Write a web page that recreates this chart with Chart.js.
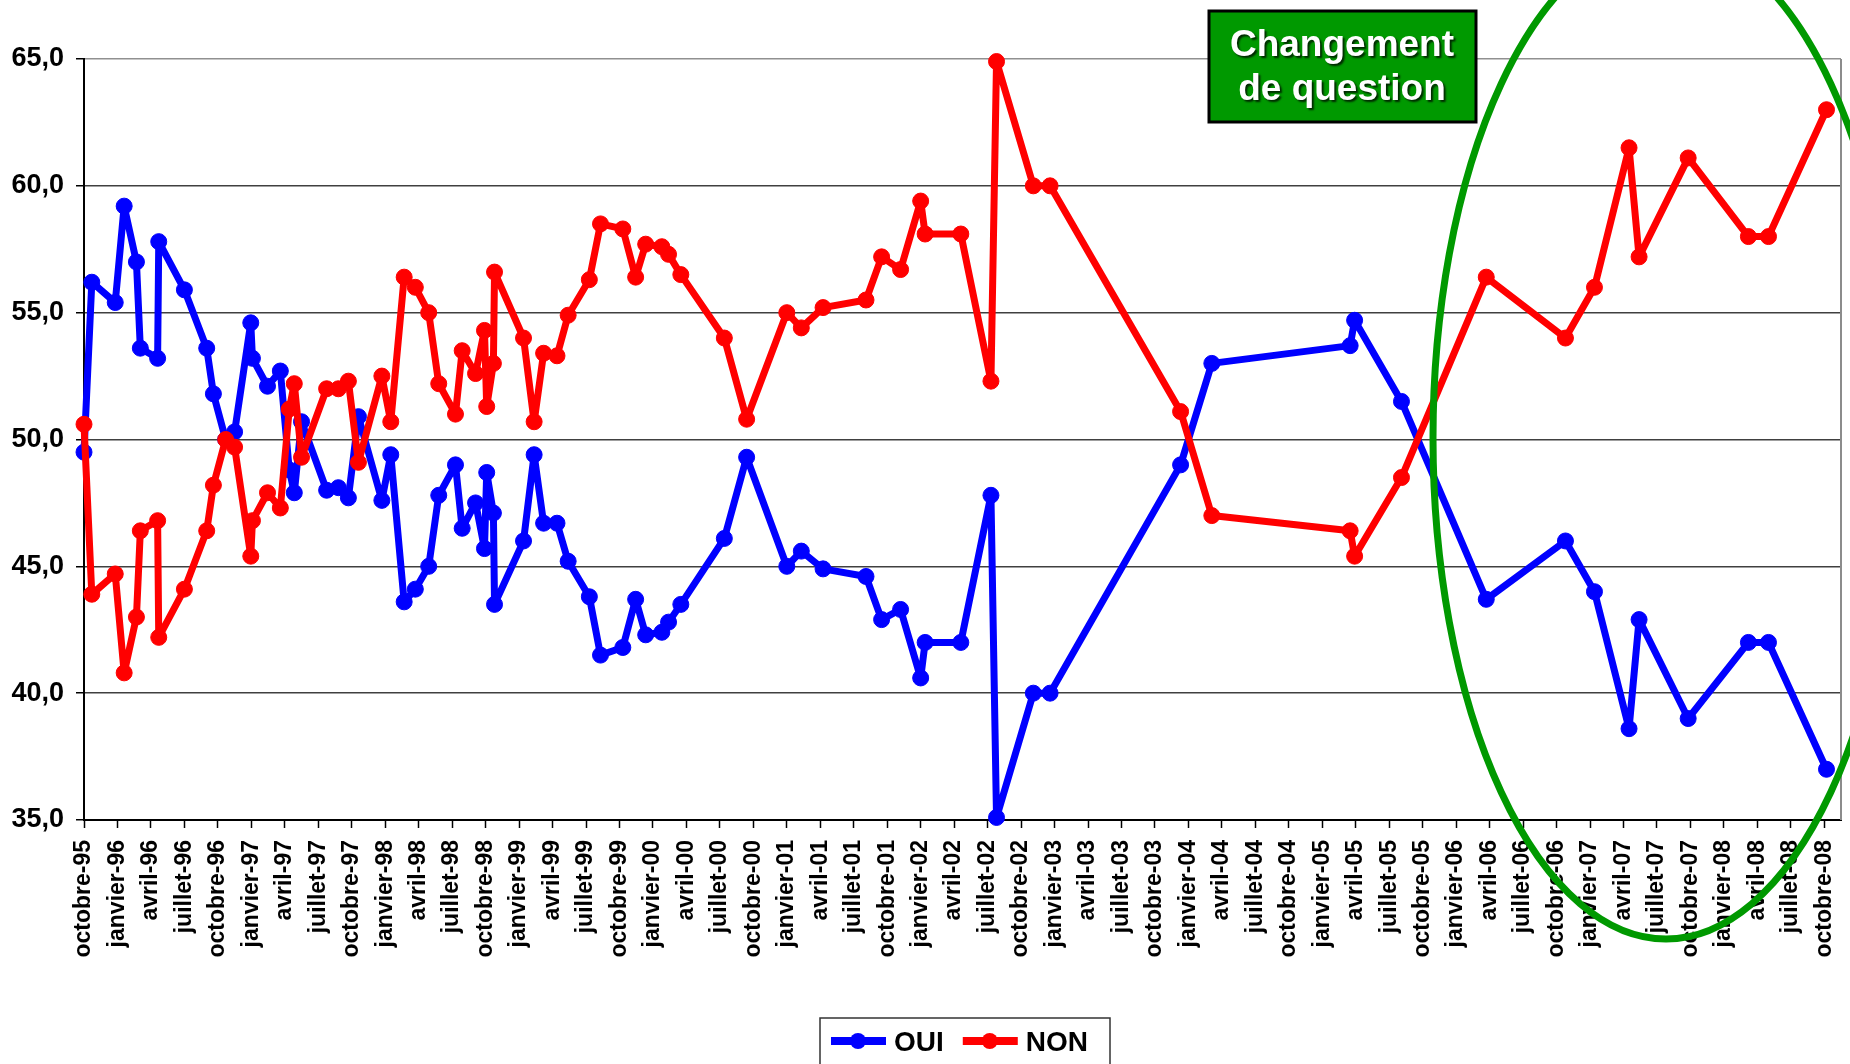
<!DOCTYPE html>
<html>
<head>
<meta charset="utf-8">
<script src="https://cdn.jsdelivr.net/npm/chart.js@4"></script>
<style>
  html, body { margin: 0; padding: 0; background: #fff; }
  #wrap { width: 1850px; height: 1064px; }
</style>
</head>
<body>
<div id="wrap"><canvas id="sondage" width="1850" height="1064"></canvas></div>
<script>
// position of each poll, in months counted from octobre-95
const moisSondage = [
    0.0, 0.7, 2.8, 3.6, 4.7, 5.05, 6.6, 6.7, 9.0, 11.0,
    11.6, 12.7, 13.5, 14.95, 15.1, 16.45, 17.6, 18.4, 18.85, 19.5,
    21.75, 22.8, 23.7, 24.6, 26.7, 27.5, 28.7, 29.7, 30.9, 31.8,
    33.3, 33.9, 35.1, 35.9, 36.1, 36.7, 36.8, 39.4, 40.35, 41.2,
    42.4, 43.4, 45.3, 46.3, 48.3, 49.45, 50.35, 51.8, 52.4, 53.5,
    57.4, 59.4, 63.0, 64.3, 66.25, 70.1, 71.5, 73.2, 75.0, 75.4,
    78.6, 81.3, 81.8, 85.1, 86.6, 98.3, 101.1, 113.5, 113.9, 118.1,
    125.7, 132.8, 135.4, 138.5, 139.4, 143.8, 149.2, 151.0, 156.2
];

const oui = [
    49.5, 56.2, 55.4, 59.2, 57.0, 53.6, 53.2, 57.8, 55.9, 53.6,
    51.8, 50.0, 50.3, 54.6, 53.2, 52.1, 52.7, 48.8, 47.9, 50.7,
    48.0, 48.1, 47.7, 50.9, 47.6, 49.4, 43.6, 44.1, 45.0, 47.8,
    49.0, 46.5, 47.5, 45.7, 48.7, 47.1, 43.5, 46.0, 49.4, 46.7,
    46.7, 45.2, 43.8, 41.5, 41.8, 43.7, 42.3, 42.4, 42.8, 43.5,
    46.1, 49.3, 45.0, 45.6, 44.9, 44.6, 42.9, 43.3, 40.6, 42.0,
    42.0, 47.8, 35.1, 40.0, 40.0, 49.0, 53.0, 53.7, 54.7, 51.5,
    43.7, 46.0, 44.0, 38.6, 42.9, 39.0, 42.0, 42.0, 37.0
];

const non = [
    50.6, 43.9, 44.7, 40.8, 43.0, 46.4, 46.8, 42.2, 44.1, 46.4,
    48.2, 50.0, 49.7, 45.4, 46.8, 47.9, 47.3, 51.2, 52.2, 49.3,
    52.0, 52.0, 52.3, 49.1, 52.5, 50.7, 56.4, 56.0, 55.0, 52.2,
    51.0, 53.5, 52.6, 54.3, 51.3, 53.0, 56.6, 54.0, 50.7, 53.4,
    53.3, 54.9, 56.3, 58.5, 58.3, 56.4, 57.7, 57.6, 57.3, 56.5,
    54.0, 50.8, 55.0, 54.4, 55.2, 55.5, 57.2, 56.7, 59.4, 58.1,
    58.1, 52.3, 64.9, 60.0, 60.0, 51.1, 47.0, 46.4, 45.4, 48.5,
    56.4, 54.0, 56.0, 61.5, 57.2, 61.1, 58.0, 58.0, 63.0
];

// one label every quarter, from octobre-95 to octobre-08
const etiquettesX = [
    'octobre-95',
    'janvier-96', 'avril-96', 'juillet-96', 'octobre-96',
    'janvier-97', 'avril-97', 'juillet-97', 'octobre-97',
    'janvier-98', 'avril-98', 'juillet-98', 'octobre-98',
    'janvier-99', 'avril-99', 'juillet-99', 'octobre-99',
    'janvier-00', 'avril-00', 'juillet-00', 'octobre-00',
    'janvier-01', 'avril-01', 'juillet-01', 'octobre-01',
    'janvier-02', 'avril-02', 'juillet-02', 'octobre-02',
    'janvier-03', 'avril-03', 'juillet-03', 'octobre-03',
    'janvier-04', 'avril-04', 'juillet-04', 'octobre-04',
    'janvier-05', 'avril-05', 'juillet-05', 'octobre-05',
    'janvier-06', 'avril-06', 'juillet-06', 'octobre-06',
    'janvier-07', 'avril-07', 'juillet-07', 'octobre-07',
    'janvier-08', 'avril-08', 'juillet-08', 'octobre-08'
];
const pasTrimestre = 3;

const series = [
    { nom: 'OUI', valeurs: oui, couleur: '#0000FF' },
    { nom: 'NON', valeurs: non, couleur: '#FF0000' }
];

const police = '"Liberation Sans", Arial, sans-serif';

// legend drawn by hand: line + dot + bold text, in a framed box
const legendeMaison = {
    id: 'legendeMaison',
    afterDraw(chart) {
        const ctx = chart.ctx;
        ctx.save();
        ctx.strokeStyle = '#333';
        ctx.lineWidth = 1.5;
        ctx.strokeRect(820, 1018, 290, 60);
        let x = 831;
        const y = 1041;
        ctx.font = 'bold 28px ' + police;
        ctx.textBaseline = 'middle';
        chart.data.datasets.forEach(ds => {
            ctx.strokeStyle = ds.borderColor;
            ctx.lineWidth = 8;
            ctx.beginPath();
            ctx.moveTo(x, y);
            ctx.lineTo(x + 55, y);
            ctx.stroke();
            ctx.fillStyle = ds.borderColor;
            ctx.beginPath();
            ctx.arc(x + 27, y, 8, 0, Math.PI * 2);
            ctx.fill();
            ctx.fillStyle = '#000';
            ctx.fillText(ds.label, x + 63, y + 2);
            x += 64 + ctx.measureText(ds.label).width + 18;
        });
        ctx.restore();
    }
};

// right border of the plot, green ellipse and the "Changement de question" box
const decor = {
    id: 'decor',
    beforeDatasetsDraw(chart) {
        const a = chart.chartArea;
        const ctx = chart.ctx;
        ctx.save();
        ctx.strokeStyle = '#8c8c8c';
        ctx.lineWidth = 2;
        ctx.beginPath();
        ctx.moveTo(a.right, a.top);
        ctx.lineTo(a.right, a.bottom);
        ctx.stroke();
        ctx.restore();
    },
    afterDraw(chart) {
        const ctx = chart.ctx;
        ctx.save();
        ctx.strokeStyle = '#009900';
        ctx.lineWidth = 7;
        ctx.beginPath();
        ctx.ellipse(1666, 438, 233, 501, 0, 0, Math.PI * 2);
        ctx.stroke();

        ctx.fillStyle = '#009900';
        ctx.fillRect(1209, 11, 267, 111);
        ctx.strokeStyle = '#000';
        ctx.lineWidth = 3;
        ctx.strokeRect(1209, 11, 267, 111);

        ctx.font = 'bold 37px ' + police;
        ctx.textAlign = 'center';
        ctx.textBaseline = 'middle';
        ctx.shadowColor = 'rgba(0,0,0,0.75)';
        ctx.shadowOffsetX = 2;
        ctx.shadowOffsetY = 2;
        ctx.shadowBlur = 2;
        ctx.fillStyle = '#fff';
        ctx.fillText('Changement', 1342, 46);
        ctx.fillText('de question', 1342, 90);
        ctx.restore();
    }
};

new Chart(document.getElementById('sondage'), {
    type: 'line',
    data: {
        datasets: series.map((s, i) => ({
            label: s.nom,
            data: s.valeurs.map((v, k) => ({ x: moisSondage[k], y: v })),
            borderColor: s.couleur,
            backgroundColor: s.couleur,
            pointBackgroundColor: s.couleur,
            pointBorderColor: s.couleur,
            borderWidth: 7,
            borderJoinStyle: 'round',
            borderCapStyle: 'round',
            pointRadius: 8,
            pointBorderWidth: 1,
            tension: 0,
            clip: false,
            order: series.length - i
        }))
    },
    options: {
        responsive: false,
        devicePixelRatio: 1,
        animation: false,
        layout: { padding: { top: 59, right: 6, left: 0, bottom: 0 } },
        plugins: {
            legend: { display: false },
            tooltip: { enabled: false }
        },
        scales: {
            x: {
                type: 'linear',
                min: 0,
                max: 157.5,
                afterBuildTicks: scale => {
                    scale.ticks = etiquettesX.map((_, i) => ({ value: i * pasTrimestre }));
                },
                afterFit: scale => {
                    scale.height = 244;
                    scale.paddingLeft = 0;
                    scale.paddingRight = 0;
                },
                grid: { drawOnChartArea: false, drawTicks: true, tickLength: 8, tickColor: '#000', tickWidth: 1.5 },
                border: { color: '#000', width: 2 },
                ticks: {
                    autoSkip: false,
                    maxRotation: 90,
                    minRotation: 90,
                    padding: 12,
                    color: '#000',
                    font: { family: police, size: 23, weight: 'bold' },
                    callback: (value, index) => etiquettesX[index]
                }
            },
            y: {
                min: 35,
                max: 65,
                afterFit: scale => { scale.width = 84; },
                grid: {
                    color: c => (c.tick && c.tick.value === 65) ? '#909090' : '#404040',
                    lineWidth: 1.5,
                    tickLength: 8,
                    tickColor: '#000'
                },
                border: { color: '#000', width: 2 },
                ticks: {
                    stepSize: 5,
                    padding: 12,
                    color: '#000',
                    font: { family: police, size: 27, weight: 'bold' },
                    callback: v => v.toFixed(1).replace('.', ',')
                }
            }
        }
    },
    plugins: [decor, legendeMaison]
});
</script>
</body>
</html>
